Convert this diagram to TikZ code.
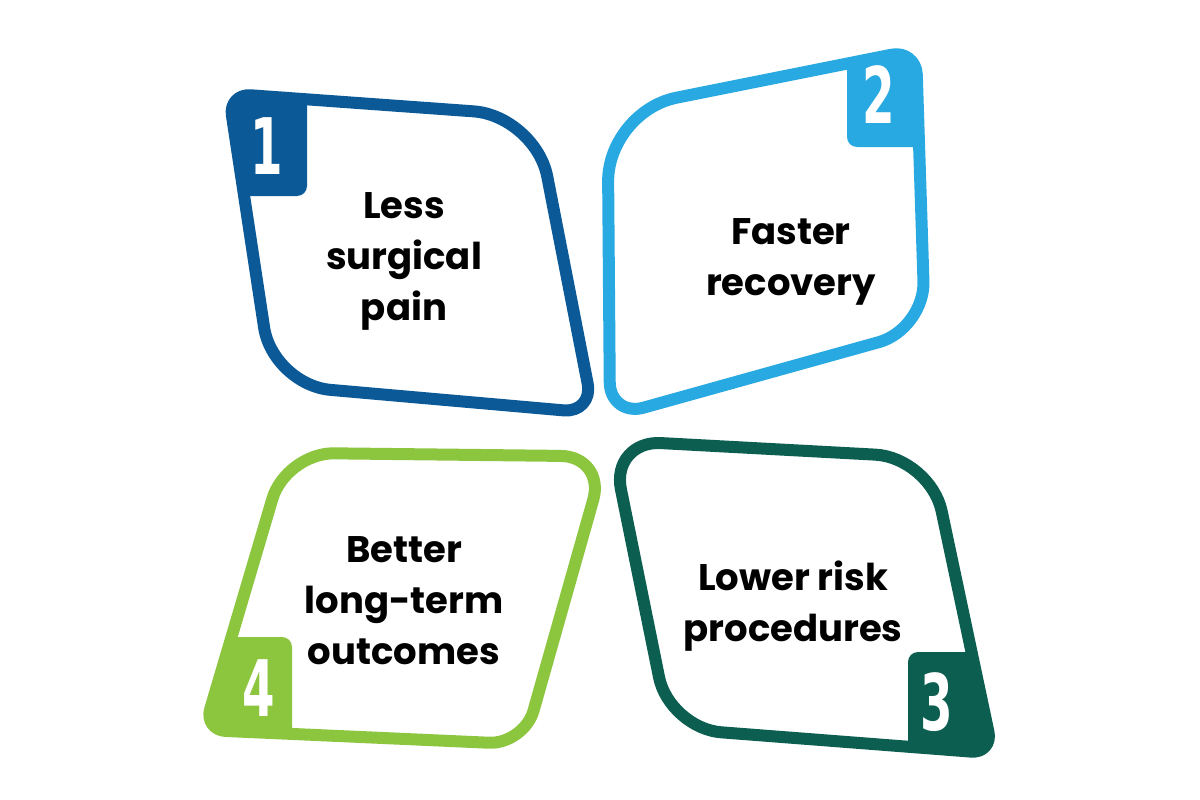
\documentclass[tikz,border=0pt]{standalone}
\usepackage{fontspec}
\setmainfont{Poppins}
\newfontfamily\numfont{DejaVu Sans}
\usetikzlibrary{calc}
\definecolor{cblue}{HTML}{0B5A97}
\definecolor{clight}{HTML}{29A9E1}
\definecolor{cgreen}{HTML}{8CC63F}
\definecolor{cdark}{HTML}{0B5E50}
% rounded quadrilateral: corners A B C D, radii rA rB rC rD
\newcommand{\rquad}[8]{%
 ($(#1)!#5pt!(#2)$) -- ($(#2)!#6pt!(#1)$)
 .. controls ($(#2)!#6pt*0.448!(#1)$) and ($(#2)!#6pt*0.448!(#3)$) .. ($(#2)!#6pt!(#3)$)
 -- ($(#3)!#7pt!(#2)$)
 .. controls ($(#3)!#7pt*0.448!(#2)$) and ($(#3)!#7pt*0.448!(#4)$) .. ($(#3)!#7pt!(#4)$)
 -- ($(#4)!#8pt!(#3)$)
 .. controls ($(#4)!#8pt*0.448!(#3)$) and ($(#4)!#8pt*0.448!(#1)$) .. ($(#4)!#8pt!(#1)$)
 -- ($(#1)!#5pt!(#4)$)
 .. controls ($(#1)!#5pt*0.448!(#4)$) and ($(#1)!#5pt*0.448!(#2)$) .. cycle}
\tikzset{
 frame/.style={line width=12pt, line join=round},
 numlabel/.style={font=\numfont\bfseries\fontsize{78}{78}\selectfont, text=white, inner sep=0pt},
 bodytext/.style={font=\bfseries\fontsize{37}{51}\selectfont, align=center, inner sep=0pt, text=black},
}
\begin{document}
\begin{tikzpicture}[x=1pt,y=-1pt]
\useasboundingbox[fill=white] (0,0) rectangle (1200,800);
% ---------- shape 1 ----------
\coordinate (a1) at (228.6,93.7);
\coordinate (b1) at (535.4,115.8);
\coordinate (c1) at (593.4,413);
\coordinate (d1) at (272.8,384.8);
\begin{scope}
 \clip \rquad{a1}{b1}{c1}{d1}{22}{62}{30}{58};
 \fill[cblue, rounded corners=10pt] (150,40) rectangle (307,196);
\end{scope}
\draw[frame, cblue] \rquad{a1}{b1}{c1}{d1}{22}{62}{30}{58};
\node[numlabel] (n1) at (267,146) {\scalebox{0.6}[1]{1}};
\node[bodytext] (t1) at (404,261) {Less\\surgical\\pain};
% ---------- shape 2 ----------
\coordinate (a2) at (607.6,111.5);
\coordinate (b2) at (916,49.8);
\coordinate (c2) at (925,329.3);
\coordinate (d2) at (610,417);
\begin{scope}
 \clip \rquad{a2}{b2}{c2}{d2}{70}{25}{48}{35};
 \fill[clight, rounded corners=10pt] (847,0) rectangle (1000,147);
\end{scope}
\draw[frame, clight] \rquad{a2}{b2}{c2}{d2}{70}{25}{48}{35};
\node[numlabel] (n2) at (879,95) {\scalebox{0.6}[1]{2}};
\node[bodytext] (t2) at (791,262) {Faster\\recovery};
% ---------- shape 4 ----------
\coordinate (a4) at (286,452.8);
\coordinate (b4) at (605.5,456.4);
\coordinate (c4) at (524,744.3);
\coordinate (d4) at (204,730);
\begin{scope}
 \clip \rquad{a4}{b4}{c4}{d4}{48}{45}{35}{22};
 \fill[cgreen, rounded corners=10pt] (150,637) rectangle (292,800);
\end{scope}
\draw[frame, cgreen] \rquad{a4}{b4}{c4}{d4}{48}{45}{35}{22};
\node[numlabel] (n4) at (259,688) {\scalebox{0.6}[1]{4}};
\node[bodytext] (t4) at (404,601) {Better\\long-term\\outcomes};
% ---------- shape 3 ----------
\coordinate (a3) at (611,440.4);
\coordinate (b3) at (930.3,457.6);
\coordinate (c3) at (993,753.3);
\coordinate (d3) at (669.4,728.3);
\begin{scope}
 \clip \rquad{a3}{b3}{c3}{d3}{50}{55}{22}{52};
 \fill[cdark, rounded corners=10pt] (908,652) rectangle (1050,800);
\end{scope}
\draw[frame, cdark] \rquad{a3}{b3}{c3}{d3}{50}{55}{22}{52};
\node[numlabel] (n3) at (937,702) {\scalebox{0.6}[1]{3}};
\node[bodytext] (t3) at (793,606) {Lower risk\\procedures};
\end{tikzpicture}
\end{document}
